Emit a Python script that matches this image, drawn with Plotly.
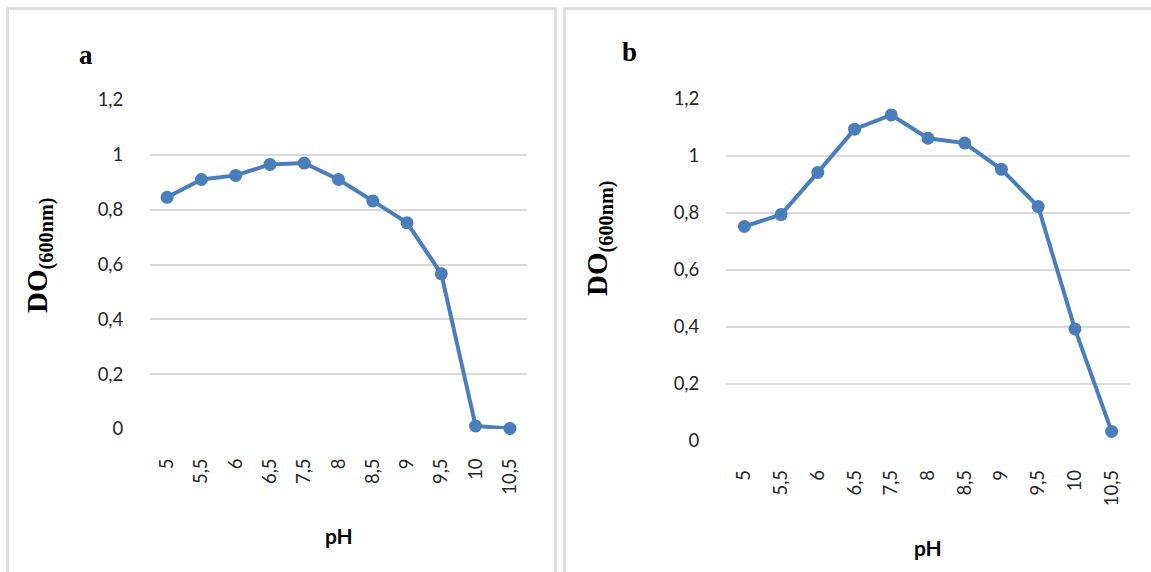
import plotly.graph_objects as go

ph_labels = ["5", "5,5", "6", "6,5", "7,5", "8", "8,5", "9", "9,5", "10", "10,5"]
do_a = [0.845, 0.91, 0.925, 0.965, 0.97, 0.91, 0.832, 0.752, 0.566, 0.011, 0.002]
do_b = [0.752, 0.794, 0.942, 1.094, 1.144, 1.062, 1.045, 0.953, 0.822, 0.392, 0.032]
y_ticks = [0, 0.2, 0.4, 0.6, 0.8, 1.0, 1.2]

W, H = 1151, 572
def px(x):
    return x / W
def py(y):
    return (H - y) / H

BLUE = "#4a7ebb"
GRID = "#d9d9d9"
TICKFONT = dict(family="Lato, Open Sans, sans-serif", size=18.5, color="#262626")

fig = go.Figure()
for data, xa, ya in [(do_a, "x", "y"), (do_b, "x2", "y2")]:
    fig.add_trace(go.Scatter(
        x=list(range(len(ph_labels))), y=data, xaxis=xa, yaxis=ya,
        mode="lines+markers", cliponaxis=False,
        line=dict(color=BLUE, width=4),
        marker=dict(color=BLUE, size=13),
        showlegend=False,
    ))

def xaxis(domain):
    return dict(domain=domain, range=[-0.5, len(ph_labels) - 0.5],
                tickvals=list(range(len(ph_labels))), ticktext=ph_labels,
                tickangle=-90, showgrid=False, zeroline=False, showline=False,
                ticks="outside", ticklen=0, ticklabelstandoff=21,
                tickfont=TICKFONT, automargin=False)

def yaxis(domain, anchor):
    return dict(domain=domain, range=[0, 1.2], tickvals=y_ticks,
                showgrid=True, gridcolor=GRID, gridwidth=1.5,
                zeroline=False, showline=False, ticks="outside", ticklen=0,
                ticklabelstandoff=22, tickfont=TICKFONT, anchor=anchor,
                automargin=False)

fig.update_layout(
    width=W, height=H, margin=dict(l=0, r=0, t=0, b=0, pad=0, autoexpand=False),
    paper_bgcolor="white", plot_bgcolor="white",
    separators=", ",
    xaxis=xaxis([px(150), px(527)]) | dict(anchor="y"),
    yaxis=yaxis([py(429), py(100)], "x"),
    xaxis2=xaxis([px(726), px(1130)]) | dict(anchor="y2"),
    yaxis2=yaxis([py(440.5), py(99)], "x2"),
)

# panel borders
fig.add_shape(type="rect", xref="paper", yref="paper",
              x0=px(7.5), x1=px(555.5), y0=py(580), y1=py(8.5),
              line=dict(color=GRID, width=2.5))
fig.add_shape(type="rect", xref="paper", yref="paper",
              x0=px(564.5), x1=px(1160), y0=py(580), y1=py(8.5),
              line=dict(color=GRID, width=2.5))

serif = "Liberation Serif, Times New Roman, serif"
sans = "Lato, Open Sans, sans-serif"
annots = [
    dict(x=px(86), y=py(55), text="<b>a</b>", font=dict(family=serif, size=27, color="black")),
    dict(x=px(629), y=py(52), text="<b>b</b>", font=dict(family=serif, size=27, color="black")),
    dict(x=px(39), y=py(255), text="<b>DO<sub>(600nm)</sub></b>", textangle=-90,
         font=dict(family=serif, size=29, color="black")),
    dict(x=px(600), y=py(238), text="<b>DO<sub>(600nm)</sub></b>", textangle=-90,
         font=dict(family=serif, size=29, color="black")),
    dict(x=px(339), y=py(535), text="<b>pH</b>", font=dict(family=sans, size=21, color="black")),
    dict(x=px(928), y=py(547), text="<b>pH</b>", font=dict(family=sans, size=21, color="black")),
]
for a in annots:
    fig.add_annotation(xref="paper", yref="paper", showarrow=False,
                       xanchor="center", yanchor="middle", **a)

fig.write_html("out.html")
